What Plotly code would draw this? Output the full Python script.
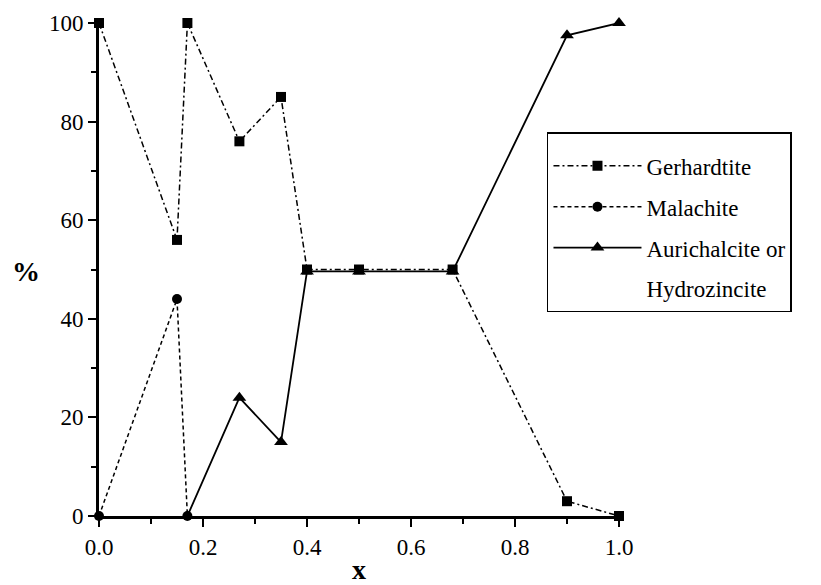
import plotly.graph_objects as go

ger_x = [0.0, 0.15, 0.17, 0.27, 0.35, 0.40, 0.50, 0.68, 0.90, 1.0]
ger_y = [100, 56, 100, 76, 85, 50, 50, 50, 3, 0]

mal_x = [0.0, 0.15, 0.17]
mal_y = [0, 44, 0]

aur_x = [0.17, 0.27, 0.35, 0.40, 0.50, 0.68, 0.90, 1.0]
aur_y = [0, 24, 15, 49.6, 49.6, 49.6, 97.5, 100]

legend_names = ["Gerhardtite", "Malachite", "Aurichalcite or", "Hydrozincite"]

FONT = "Liberation Serif"

fig = go.Figure()
fig.add_trace(go.Scatter(x=ger_x, y=ger_y, name=legend_names[0], mode="lines+markers",
                         legendgroup="g", cliponaxis=False,
                         line=dict(color="black", width=1.5, dash="6px,3px,2px,3px"),
                         marker=dict(symbol="square", size=10, color="black")))
fig.add_trace(go.Scatter(x=mal_x, y=mal_y, name=legend_names[1], mode="lines+markers",
                         legendgroup="m", cliponaxis=False,
                         line=dict(color="black", width=1.5, dash="4px,3px"),
                         marker=dict(symbol="circle", size=10, color="black")))
fig.add_trace(go.Scatter(x=aur_x, y=aur_y, name=legend_names[2], mode="lines+markers",
                         legendgroup="a", cliponaxis=False,
                         line=dict(color="black", width=1.8),
                         marker=dict(symbol="triangle-up", size=12, color="black")))
fig.add_trace(go.Scatter(x=[None], y=[None], name=legend_names[3], mode="lines",
                         legendgroup="h", hoverinfo="skip",
                         line=dict(color="rgba(0,0,0,0)", width=0)))

fig.update_layout(
    width=813, height=577,
    margin=dict(l=91, r=202, t=15, b=69, autoexpand=False),
    paper_bgcolor="white", plot_bgcolor="white",
    font=dict(family=FONT, size=23, color="black"),
    legend=dict(x=0.8615, y=0.778, xanchor="left", yanchor="top",
                bordercolor="black", borderwidth=1.5, bgcolor="white",
                traceorder="grouped", tracegroupgap=8, valign="middle",
                itemwidth=88,
                title=dict(text=" ", font=dict(size=8)),
                font=dict(family=FONT, size=23, color="black")),
    xaxis=dict(range=[0, 1.0], showgrid=False, zeroline=False, automargin=False,
               showline=True, linecolor="black", linewidth=3,
               ticks="outside", tickwidth=2, ticklen=8, tickcolor="black",
               tickvals=[0, 0.2, 0.4, 0.6, 0.8, 1.0],
               ticktext=["0.0", "0.2", "0.4", "0.6", "0.8", "1.0"],
               tickfont=dict(family=FONT, size=23),
               minor=dict(ticks="outside", dtick=0.1, ticklen=5, tickwidth=2, tickcolor="black"),
               title=dict(text="<b>x</b>", standoff=4, font=dict(family=FONT, size=28))),
    yaxis=dict(range=[0, 100], showgrid=False, zeroline=False, automargin=False,
               showline=True, linecolor="black", linewidth=3,
               ticks="outside", tickwidth=2, ticklen=8, tickcolor="black",
               tickvals=[0, 20, 40, 60, 80, 100],
               tickfont=dict(family=FONT, size=23),
               minor=dict(ticks="outside", dtick=10, ticklen=5, tickwidth=2, tickcolor="black")),
    annotations=[dict(text="<b>%</b>", xref="paper", yref="paper", x=-0.14, y=0.495,
                      xanchor="center", yanchor="middle", showarrow=False,
                      font=dict(family=FONT, size=28, color="black"))],
)

fig.write_html("out.html")
